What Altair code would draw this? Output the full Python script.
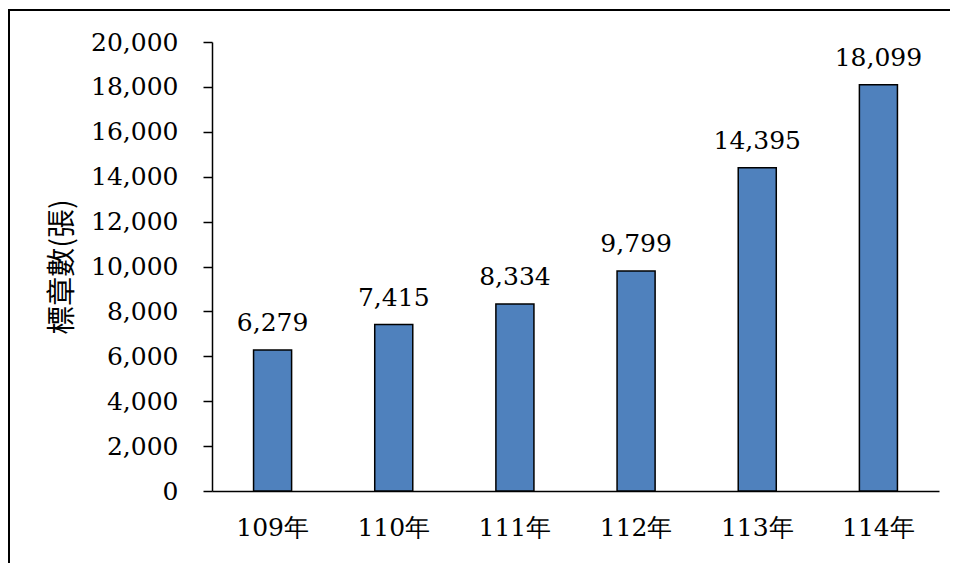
import altair as alt
import pandas as pd

years = ["109年", "110年", "111年", "112年", "113年", "114年"]
counts = [6279, 7415, 8334, 9799, 14395, 18099]
y_ticks = [0, 2000, 4000, 6000, 8000, 10000, 12000, 14000, 16000, 18000, 20000]

df = pd.DataFrame({"year": years, "count": counts})

SERIF = "DejaVu Serif"
CJK = "Noto Sans CJK TC"

x_enc = alt.X(
    "year:N",
    sort=years,
    scale=alt.Scale(paddingInner=0.686, paddingOuter=0.343),
    axis=alt.Axis(
        title=None, labelAngle=0, ticks=False, labelPadding=24,
        labelFont=SERIF, labelFontSize=25, labelColor="black",
        domainColor="black", domainWidth=1.5,
    ),
)
y_enc = alt.Y(
    "count:Q",
    scale=alt.Scale(domain=[0, 20000], nice=False),
    axis=alt.Axis(
        values=y_ticks, format=",.0f", grid=False,
        title="標章數(張)", titleFont=CJK, titleFontSize=29, titleFontWeight="normal",
        titleColor="black", titleX=-150, titleY=224.5, titleAngle=-90,
        titleAlign="center", titleBaseline="middle",
        labelFont=SERIF, labelFontSize=25, labelColor="black", labelPadding=25,
        tickSize=9, tickColor="black", tickWidth=1.5,
        domainColor="black", domainWidth=1.5,
    ),
)

bars = alt.Chart(df).mark_bar(
    color="#4F81BD", stroke="black", strokeWidth=1.5
).encode(x=x_enc, y=y_enc)

labels = alt.Chart(df).mark_text(
    font=SERIF, fontSize=25, color="black", baseline="alphabetic", dy=-19
).encode(
    x=alt.X("year:N", sort=years),
    y=alt.Y("count:Q"),
    text=alt.Text("count:Q", format=",.0f"),
)

frame_data = alt.Data(values=[{"a": 1}])
frame_left = alt.Chart(frame_data).mark_rule(color="black", strokeWidth=2).encode(
    x=alt.value(-203), y=alt.value(-33), y2=alt.value(521),
)
frame_top = alt.Chart(frame_data).mark_rule(color="black", strokeWidth=2).encode(
    x=alt.value(-204), x2=alt.value(738), y=alt.value(-32),
)

chart = alt.layer(bars, labels, frame_left, frame_top).properties(
    width=727,
    height=449,
    autosize=alt.AutoSizeParams(type="none"),
    padding={"left": 204, "top": 34, "right": 11, "bottom": 72},
    background="white",
).configure_view(stroke=None)

chart.save("out.html", embed_options={"renderer": "svg", "actions": False})
